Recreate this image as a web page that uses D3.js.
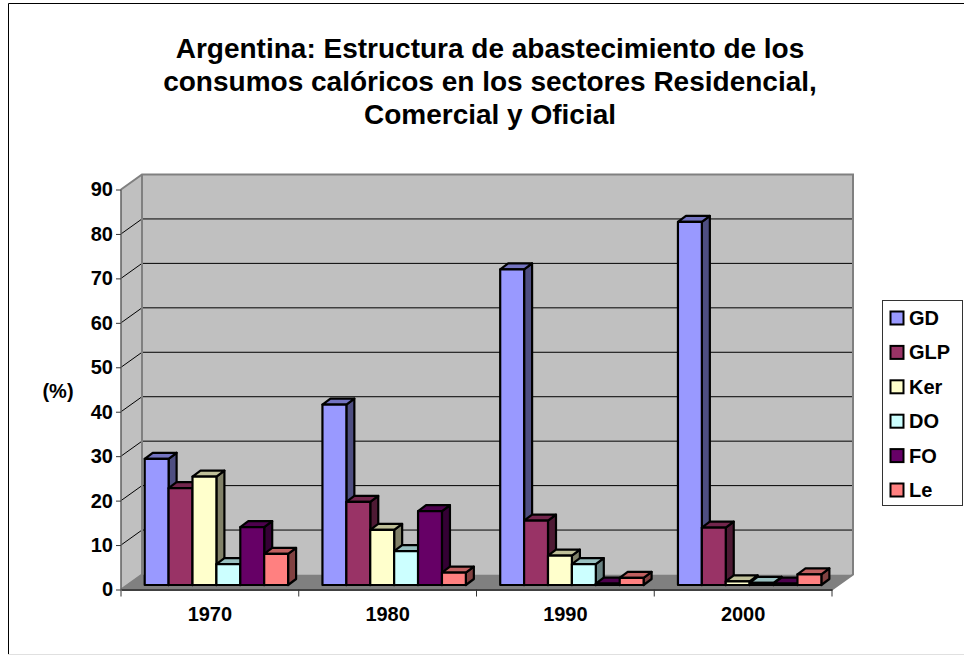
<!DOCTYPE html>
<html>
<head>
<meta charset="utf-8">
<script src="https://cdn.jsdelivr.net/npm/d3@7"></script>
<style>
html, body { margin: 0; padding: 0; background: #fff; overflow: hidden; }
text { font-family: "Liberation Sans", Arial, sans-serif; font-weight: bold; fill: #000; }
</style>
</head>
<body>
<svg width="964" height="656"></svg>
<script>
const years = ['1970', '1980', '1990', '2000'];
const seriesNames = ['GD', 'GLP', 'Ker', 'DO', 'FO', 'Le'];
const seriesColors = ['#9999ff', '#993366', '#ffffcc', '#ccffff', '#660066', '#ff8080'];
const GD = [28.4, 40.6, 71, 81.7];
const GLP = [21.8, 18.7, 14.5, 12.9];
const Ker = [24.4, 12.4, 6.6, 0.8];
const DO = [4.7, 7.6, 4.7, 0.5];
const FO = [13, 16.6, 0.3, 0.3];
const Le = [7, 2.8, 1.6, 2.4];
const seriesValues = [GD, GLP, Ker, DO, FO, Le];
const yTicks = [0, 10, 20, 30, 40, 50, 60, 70, 80, 90];
const titleLines = [
    'Argentina: Estructura de abastecimiento de los',
    'consumos calóricos en los sectores Residencial,',
    'Comercial y Oficial'
];

const svg = d3.select('svg');

// frame around the chart area
svg.append('path')
    .attr('d', 'M964,3.5H8.5V654')
    .attr('fill', 'none')
    .attr('stroke', '#000')
    .attr('stroke-width', 1);
svg.append('line')
    .attr('x1', 8).attr('x2', 964).attr('y1', 654.5).attr('y2', 654.5)
    .attr('stroke', '#e0e0e0');

svg.selectAll('.title')
    .data(titleLines)
    .enter()
    .append('text')
    .attr('class', 'title')
    .attr('x', 490)
    .attr('y', (d, i) => 57.5 + i * 33.3)
    .attr('text-anchor', 'middle')
    .style('font-size', '28px')
    .text((d) => d);

const left = 121, right = 832;
const wallDx = 21, wallDy = 15; // depth of the box
const barDx = 8, barDy = 6; // depth of a bar
const barLift = 4.5; // bars stand a bit inside the floor

const yScale = d3.scaleLinear().domain([0, 90]).range([589.5, 189.5]);
const xScale = d3.scaleBand().domain(years).range([left, right]);
const barWidth = 23.9;
const groupPad = 23.7;
const xInner = d3.scaleBand()
    .domain(seriesNames)
    .range([groupPad, groupPad + barWidth * 6]);

const box = svg.append('g');

// back wall
box.append('rect')
    .attr('x', left + wallDx)
    .attr('y', yScale(90) - wallDy)
    .attr('width', right - left)
    .attr('height', yScale(0) - yScale(90))
    .attr('fill', '#c0c0c0');
// side wall
box.append('path')
    .attr('d', `M${left},${yScale(0)}L${left},${yScale(90)}L${left + wallDx},${yScale(90) - wallDy}L${left + wallDx},${yScale(0) - wallDy}Z`)
    .attr('fill', '#c0c0c0');
// floor
box.append('path')
    .attr('d', `M${left},${yScale(0)}L${left + wallDx},${yScale(0) - wallDy}L${right + wallDx},${yScale(0) - wallDy}L${right},${yScale(0)}Z`)
    .attr('fill', '#808080');

// grid lines, on side wall and back wall
box.selectAll('.grid')
    .data(yTicks.filter((d) => d > 0 && d < 90))
    .enter()
    .append('path')
    .attr('class', 'grid')
    .attr('d', (d) => `M${left},${yScale(d)}L${left + wallDx},${yScale(d) - wallDy}H${right + wallDx}`)
    .attr('fill', 'none')
    .attr('stroke', '#000')
    .attr('stroke-width', 1);

// wall edges
box.append('path')
    .attr('d', `M${left},${yScale(90)}L${left + wallDx},${yScale(90) - wallDy}H${right + wallDx}V${yScale(0) - wallDy}L${right},${yScale(0)}`)
    .attr('fill', 'none')
    .attr('stroke', '#808080')
    .attr('stroke-width', 2);
box.append('path')
    .attr('d', `M${left + wallDx},${yScale(90) - wallDy}V${yScale(0) - wallDy}L${left},${yScale(0)}`)
    .attr('fill', 'none')
    .attr('stroke', '#808080')
    .attr('stroke-width', 2);
box.append('line')
    .attr('x1', left).attr('x2', left)
    .attr('y1', yScale(90)).attr('y2', yScale(0))
    .attr('stroke', '#606060')
    .attr('stroke-width', 1.5);

// bars
const barData = [];
years.forEach((year, i) => {
    seriesNames.forEach((name, j) => {
        barData.push({ year, name, color: seriesColors[j], value: seriesValues[j][i] });
    });
});

const bars = svg.selectAll('.bar')
    .data(barData)
    .enter()
    .append('g')
    .attr('class', 'bar')
    .attr('stroke', '#000')
    .attr('stroke-width', 2.2)
    .attr('stroke-linejoin', 'round');

const barX = (d) => xScale(d.year) + xInner(d.name);
const barTop = (d) => yScale(d.value) - barLift;
const barBase = yScale(0) - barLift;

bars.append('path') // side
    .attr('d', (d) => {
        const x = barX(d) + barWidth;
        return `M${x},${barTop(d)}l${barDx},${-barDy}V${barBase - barDy}L${x},${barBase}Z`;
    })
    .attr('fill', (d) => d3.rgb(d.color).darker(1.9));

bars.append('path') // top
    .attr('d', (d) => `M${barX(d)},${barTop(d)}l${barDx},${-barDy}h${barWidth}l${-barDx},${barDy}Z`)
    .attr('fill', (d) => d3.rgb(d.color).darker(0.8));

bars.append('rect') // front
    .attr('x', barX)
    .attr('y', barTop)
    .attr('width', barWidth)
    .attr('height', (d) => barBase - barTop(d))
    .attr('fill', (d) => d.color);

// axes
const yAxis = d3.axisLeft(yScale).tickValues(yTicks).tickSize(5).tickPadding(3).tickFormat(d3.format('d'));
const yAxisG = svg.append('g')
    .attr('transform', `translate(${left}, 0)`)
    .call(yAxis);
yAxisG.select('.domain').remove();
yAxisG.selectAll('line').attr('stroke', '#333');
yAxisG.selectAll('text')
    .attr('fill', '#000')
    .style('font-size', '20px')
    .style('font-family', '"Liberation Sans", Arial, sans-serif');

const xAxis = d3.axisBottom(xScale).tickSize(0).tickPadding(17);
const xAxisG = svg.append('g')
    .attr('transform', `translate(0, ${yScale(0)})`)
    .call(xAxis);
xAxisG.select('.domain')
    .attr('stroke', '#404040')
    .attr('stroke-width', 2);
xAxisG.selectAll('text')
    .attr('fill', '#000')
    .style('font-size', '20px')
    .style('font-family', '"Liberation Sans", Arial, sans-serif');
xAxisG.selectAll('.edge')
    .data(d3.range(years.length + 1))
    .enter()
    .append('line')
    .attr('class', 'edge')
    .attr('x1', (d) => left + d * xScale.step())
    .attr('x2', (d) => left + d * xScale.step())
    .attr('y1', 0)
    .attr('y2', 7)
    .attr('stroke', '#333');

svg.append('text')
    .attr('x', 58)
    .attr('y', 398)
    .attr('text-anchor', 'middle')
    .style('font-size', '20px')
    .text('(%)');

// legend
const legend = svg.append('g');
legend.append('rect')
    .attr('x', 882.5).attr('y', 300.5)
    .attr('width', 80).attr('height', 205)
    .attr('fill', '#fff')
    .attr('stroke', '#333');
const legendRow = d3.scalePoint().domain(seriesNames).range([318, 490]);
const rows = legend.selectAll('.row')
    .data(seriesNames)
    .enter()
    .append('g')
    .attr('class', 'row')
    .attr('transform', (d) => `translate(0, ${legendRow(d)})`);
rows.append('rect')
    .attr('x', 890.5).attr('y', -6.5)
    .attr('width', 13).attr('height', 13)
    .attr('fill', (d, i) => seriesColors[i])
    .attr('stroke', '#000')
    .attr('stroke-width', 2);
rows.append('text')
    .attr('x', 909)
    .attr('y', 7)
    .style('font-size', '20px')
    .text((d) => d);
</script>
</body>
</html>
